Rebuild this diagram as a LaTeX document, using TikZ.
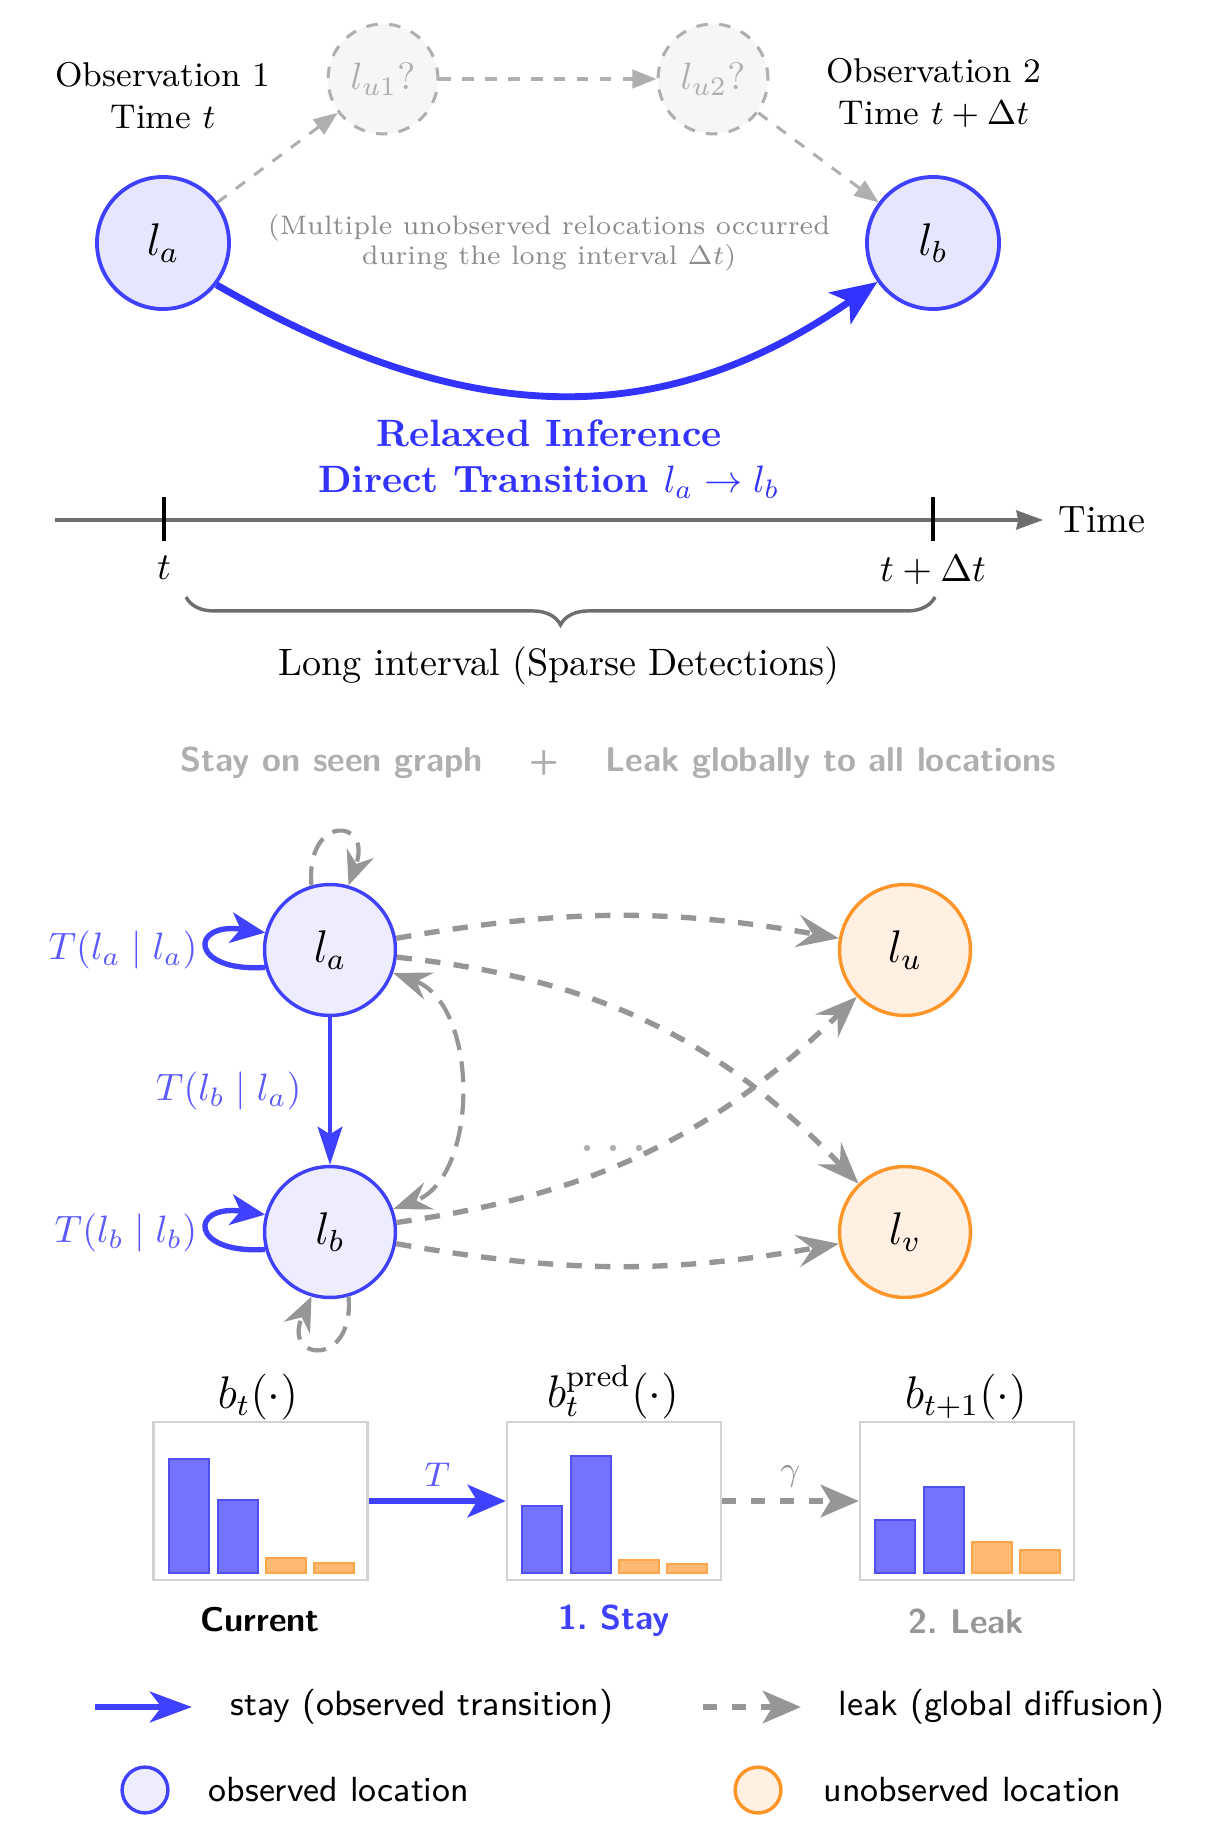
\documentclass[tikz,border=0pt]{standalone}
\usetikzlibrary{arrows.meta,decorations.pathreplacing,calc}
\definecolor{mblue}{RGB}{64,64,255}
\definecolor{bigblue}{RGB}{51,51,255}
\definecolor{obsfill}{RGB}{230,230,255}
\definecolor{obsfillb}{RGB}{237,237,255}
\definecolor{morange}{RGB}{255,148,40}
\definecolor{unobsfill}{RGB}{255,240,226}
\definecolor{ggray}{RGB}{150,150,150}
\definecolor{lgray}{RGB}{175,175,175}
\definecolor{ufill}{RGB}{246,246,246}
\definecolor{notegray}{RGB}{140,140,140}
\definecolor{barblue}{RGB}{115,115,255}
\definecolor{barblueedge}{RGB}{80,80,240}
\definecolor{barorange}{RGB}{255,185,115}
\definecolor{barorangeedge}{RGB}{255,165,75}
\definecolor{boxgray}{RGB}{210,210,210}
\definecolor{tlgray}{RGB}{110,110,110}
\definecolor{lblblue}{RGB}{90,90,255}
\newcommand{\mybars}[5]{%
  \filldraw[fill=barblue, draw=barblueedge, line width=0.6pt] (#1+15,-1573) rectangle (#1+55,-#2);
  \filldraw[fill=barblue, draw=barblueedge, line width=0.6pt] (#1+64,-1573) rectangle (#1+104,-#3);
  \filldraw[fill=barorange, draw=barorangeedge, line width=0.6pt] (#1+112,-1573) rectangle (#1+152,-#4);
  \filldraw[fill=barorange, draw=barorangeedge, line width=0.6pt] (#1+160,-1573) rectangle (#1+200,-#5);
}
\begin{document}
\begin{tikzpicture}[x=0.262pt, y=0.262pt,
  obsA/.style={circle, draw=mblue, line width=1pt, fill=obsfill, minimum size=34.6pt, inner sep=0pt, font=\large},
  ghost/.style={circle, draw=lgray, dashed, line width=0.8pt, fill=ufill, minimum size=28.8pt, inner sep=0pt, text=lgray},
  obsB/.style={circle, draw=mblue, line width=0.9pt, fill=obsfillb, minimum size=34.3pt, inner sep=0pt, font=\large},
  unobs/.style={circle, draw=morange, line width=0.9pt, fill=unobsfill, minimum size=34.3pt, inner sep=0pt, font=\large},
  thinleak/.style={draw=lgray, line width=0.8pt, dash pattern=on 3pt off 3pt, -{Triangle[length=6.3pt,width=4.8pt]}},
  bigstay/.style={draw=bigblue, line width=1.8pt, -{Stealth[length=12pt,width=10pt,inset=3pt]}},
  leak/.style={draw=ggray, line width=1.4pt, dash pattern=on 4pt off 3.5pt, -{Stealth[length=11pt,width=8.5pt,inset=4pt]}},
  leakboth/.style={draw=ggray, line width=1.1pt, dash pattern=on 5.5pt off 3pt, {Stealth[length=10pt,width=7.5pt,inset=3.5pt]}-{Stealth[length=10pt,width=7.5pt,inset=3.5pt]}},
  leakloop/.style={draw=ggray, line width=1.1pt, dash pattern=on 5pt off 3pt, -{Stealth[length=9pt,width=7.5pt,inset=3pt]}},
  stayloop/.style={draw=mblue, line width=1.4pt, -{Stealth[length=9pt,width=8pt,inset=2.5pt]}},
  stayline/.style={draw=mblue, line width=0.9pt, -{Stealth[length=10pt,width=6.5pt,inset=2pt]}},
  tlabel/.style={text=lblblue, font=\fontsize{9.6}{11}\selectfont},
  belief/.style={draw=boxgray, line width=0.6pt, minimum width=56.1pt, minimum height=41.4pt, inner sep=0pt},
  stayflow/.style={draw=mblue, line width=1.5pt, -{Stealth[length=10pt,width=8.5pt,inset=2.5pt]}},
  leakflow/.style={draw=ggray, line width=1.5pt, dash pattern=on 3.6pt off 4pt, -{Stealth[length=10pt,width=8.5pt,inset=2.5pt]}},
  header/.style={font=\sffamily\bfseries\small, text=lgray},
  steplabel/.style={font=\sffamily\bfseries\small},
  legtext/.style={font=\sffamily\fontsize{9.15}{11}\selectfont, anchor=west, inner sep=0pt},
  timeline/.style={draw=tlgray, line width=0.8pt, -{Stealth[length=7pt,width=5pt,inset=0.5pt]}},
]
\useasboundingbox (0,0) rectangle (1221,-1827);

% ---------- top part ----------
\node[font=\small, align=center] (obs1) at (163,-96) {Observation 1\\Time $t$};
\node[font=\small, align=center] (obs2) at (934,-93) {Observation 2\\Time $t+\Delta t$};
\node[ghost] (u1) at (383,-79) {$l_{u1}?$};
\node[ghost] (u2) at (713,-79) {$l_{u2}?$};
\node[obsA] (la) at (163,-243) {$l_a$};
\node[obsA] (lb) at (933,-243) {$l_b$};
\node[font=\scriptsize, align=center, text=notegray] (note) at (549,-243)
  {(Multiple unobserved relocations occurred\\during the long interval $\Delta t$)};
\draw[thinleak] (la) -- (u1);
\draw[thinleak] (u1) -- (u2);
\draw[thinleak] (u2) -- (lb);
\draw[bigstay] (la.-38) .. controls +(-30:275) and +(-145:275) .. (lb.-145);
\node[font=\bfseries, text=bigblue, align=center] (relax) at (549,-459)
  {Relaxed Inference\\Direct Transition $l_a \to l_b$};

% timeline
\coordinate (t0) at (55,-520);
\coordinate (t1) at (1043,-520);
\draw[timeline] (t0) -- (t1);
\node[anchor=west, inner sep=0pt] (timelbl) at (1058,-520) {Time};
\coordinate (k1a) at (164,-497); \coordinate (k1b) at (164,-541);
\coordinate (k2a) at (933,-497); \coordinate (k2b) at (933,-541);
\draw[line width=0.8pt] (k1a) -- (k1b);
\draw[line width=0.8pt] (k2a) -- (k2b);
\node (tl) at (164,-568) {$t$};
\node (tdl) at (933,-570) {$t+\Delta t$};
\coordinate (br0) at (186,-597);
\coordinate (br1) at (935,-597);
\draw[tlgray, line width=0.9pt, decorate, decoration={brace, mirror, amplitude=7.3pt}] (br0) -- (br1);
\node (long) at (559,-666) {Long interval (Sparse Detections)};

% ---------- header ----------
\node[header] (h1) at (332,-763) {Stay on seen graph};
\node[header] (h2) at (544,-763) {+};
\node[header] (h3) at (831,-763) {Leak globally to all locations};

% ---------- graph ----------
\node[obsB] (A) at (330,-950) {$l_a$};
\node[obsB] (B) at (330,-1232) {$l_b$};
\node[unobs] (U) at (905,-950) {$l_u$};
\node[unobs] (V) at (905,-1232) {$l_v$};
\draw[leak] (A) to[bend left=10] (U);
\draw[leak] (A) to[bend left=20] (V);
\draw[leak] (B) to[bend right=18] (U);
\draw[leak] (B) to[bend right=10] (V);
\draw[leakboth] (A) to[bend left=70] (B);
\draw[leakloop] (A.106) .. controls +(95:72) and +(70:72) .. (A.74);
\draw[leakloop] (B.-74) .. controls +(-85:72) and +(-115:72) .. (B.-106);
\draw[stayloop] (A.195) .. controls +(-76,-5) and +(-76,11) .. (A.165);
\draw[stayloop] (B.195) .. controls +(-76,-5) and +(-76,11) .. (B.165);
\draw[stayline] (A) -- node[tlabel, left, inner sep=7pt] {$T(l_b \mid l_a)$} (B);
\node[tlabel] (laa) at (123,-950) {$T(l_a \mid l_a)$};
\node[tlabel] (lbb) at (126,-1233) {$T(l_b \mid l_b)$};
\fill[lgray] (587,-1148) circle (3.2);
\fill[lgray] (613,-1148) circle (3.2);
\fill[lgray] (639,-1148) circle (3.2);

% ---------- beliefs ----------
\node[belief] (bx1) at (260.5,-1501) {};
\node[belief] (bx2) at (614,-1501) {};
\node[belief] (bx3) at (967,-1501) {};
\mybars{154}{1459}{1500}{1558}{1563}
\mybars{507}{1506}{1456}{1560}{1564}
\mybars{860}{1520}{1487}{1542}{1550}
\node[font=\large] (bt) at (258,-1397) {$b_t(\cdot)$};
\node[font=\large] (bp) at (613,-1392) {$b_t^{\mathrm{pred}}(\cdot)$};
\node[font=\large] (bn) at (966,-1397) {$b_{t+1}(\cdot)$};
\draw[stayflow] (bx1) -- node[above, text=lblblue, font=\small, inner sep=3pt] {$T$} (bx2);
\draw[leakflow] (bx2) -- node[above, text=ggray, font=\small, inner sep=3pt] {$\gamma$} (bx3);
\node[steplabel] (c1) at (260,-1620) {Current};
\node[steplabel, text=mblue] (c2) at (614,-1621) {1.\ Stay};
\node[steplabel, text=ggray] (c3) at (966,-1621) {2.\ Leak};

% ---------- legend ----------
\coordinate (s0) at (95,-1707);
\coordinate (s1) at (192,-1707);
\draw[draw=mblue, line width=1.75pt, -{Stealth[length=11pt,width=8pt,inset=3pt]}] (s0) -- (s1);
\node[legtext] (lg1) at (230,-1707) {stay (observed transition)};
\coordinate (g0) at (703,-1707);
\coordinate (g1) at (801,-1707);
\draw[leakflow] (g0) -- (g1);
\node[legtext] (lg2) at (838,-1707) {leak (global diffusion)};
\node[obsB, minimum size=12pt] (kb) at (145,-1790) {};
\node[legtext] (lg3) at (208,-1790) {observed location};
\node[unobs, minimum size=12pt] (ko) at (758,-1790) {};
\node[legtext] (lg4) at (823,-1790) {unobserved location};
\end{tikzpicture}
\end{document}
